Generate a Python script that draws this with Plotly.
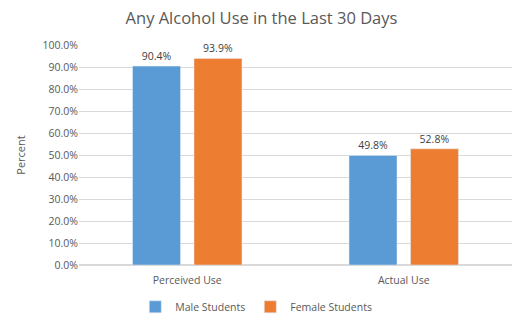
import plotly.graph_objects as go

categories = ["Perceived Use", "Actual Use"]
male = [0.904, 0.498]
female = [0.939, 0.528]
series_names = ["Male Students", "Female Students"]

font = "Open Sans, Liberation Sans, sans-serif"
fig = go.Figure()
for name, vals, color in [(series_names[0], male, "#5B9BD5"), (series_names[1], female, "#ED7D31")]:
    fig.add_trace(go.Bar(
        x=categories, y=vals, name=name, marker_color=color,
        text=[f"{v*100:.1f}%" for v in vals], textposition="outside",
        textfont=dict(size=10.5, color="#404040", family=font),
        cliponaxis=False,
    ))

fig.update_layout(
    width=523, height=326,
    margin=dict(l=79, r=11, t=45, b=61, autoexpand=False),
    paper_bgcolor="white", plot_bgcolor="white",
    barmode="group", bargap=0.432, bargroupgap=0.22,
    title=dict(text="Any Alcohol Use in the Last 30 Days", x=0.5, xanchor="center",
               y=0.945, yanchor="middle",
               font=dict(size=16.5, color="#595959", family=font)),
    font=dict(family=font, size=10.5, color="#595959"),
    showlegend=True,
    legend=dict(orientation="h", x=0.13, xanchor="left", y=-0.19, yanchor="middle",
                font=dict(size=10.5, color="#595959"), itemwidth=30,
                traceorder="normal"),
    yaxis=dict(range=[0, 1], dtick=0.1, tickformat=".1%", showgrid=True, automargin=False,
               gridcolor="#D9D9D9", gridwidth=1, zeroline=True, zerolinecolor="#D9D9D9",
               ticks="", ticklen=0, title=dict(text="Percent", standoff=14,
               font=dict(size=11, color="#595959"))),
    xaxis=dict(showline=False, ticks="", automargin=False, ticklabelstandoff=7,
               tickfont=dict(size=10.5, color="#595959")),
)
fig.write_html("out.html")
